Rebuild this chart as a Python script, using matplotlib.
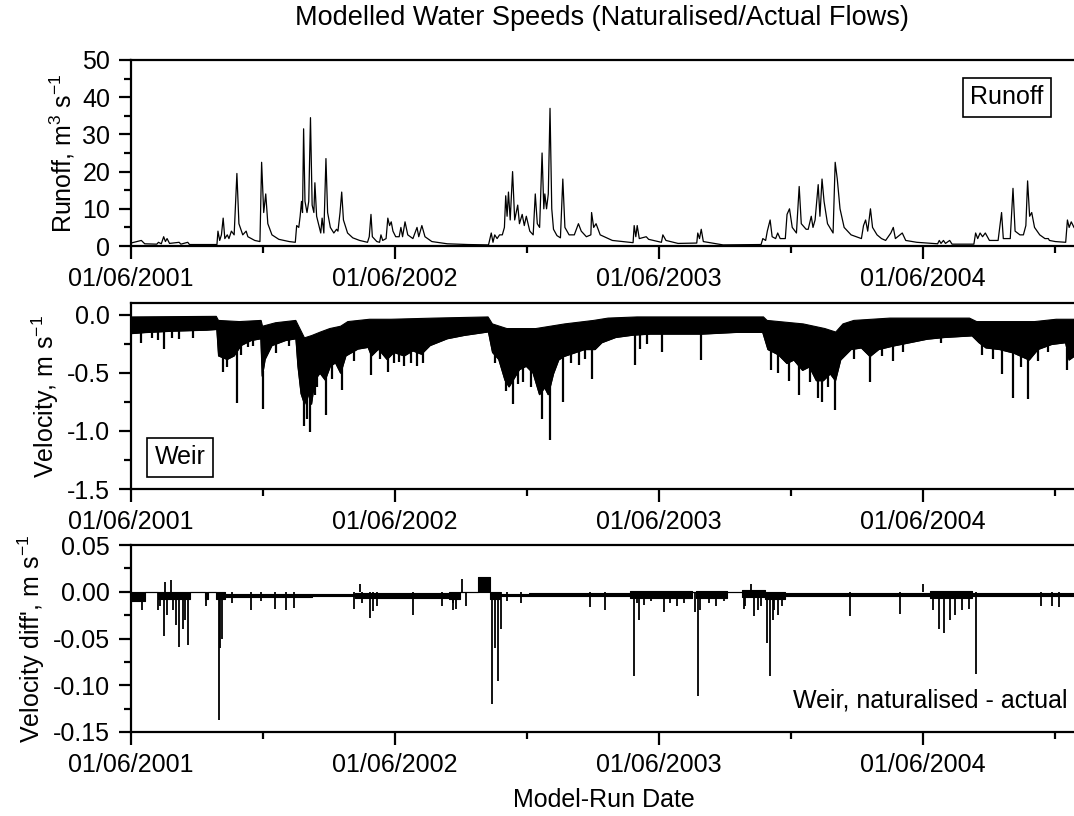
import matplotlib
matplotlib.use('Agg')
import matplotlib.pyplot as plt
from matplotlib.ticker import MultipleLocator, FormatStrFormatter
import numpy as np

plt.rcParams['font.family'] = ['Liberation Sans', 'DejaVu Sans']
plt.rcParams['mathtext.fontset'] = 'custom'
plt.rcParams['mathtext.rm'] = 'Liberation Sans'
plt.rcParams['mathtext.it'] = 'Liberation Sans:italic'
plt.rcParams['axes.unicode_minus'] = False

# x values are days since 01/06/2001
# ---------------- runoff (m3 s-1) ----------------
runoff_day = [0, 14.3, 19, 35.7, 38, 41.9, 45.2, 47.6, 49.9, 53.3, 66.6, 69, 78.5, 80.9, 118.9,
              120.3, 122.7, 125.1, 127.5, 129.8, 133.2, 135.5, 138.9, 142.7, 146.5, 149.3, 154.6,
              159.3, 161.7, 171.2, 178.4, 180.7, 183.6, 186.4, 189.3, 195, 204.5, 218.8, 227.3,
              229.2, 232.1, 234, 235.9, 237.3, 238.8, 240.7, 243.5, 245.9, 248.3, 250.6, 253,
              254.4, 256.8, 260.6, 262.5, 264.4, 266.8, 269.7, 272, 275.8, 280.6, 284.4, 286.3,
              289.2, 291.5, 293.9, 299.6, 306.8, 316.3, 327.2, 329.6, 332, 333.9, 340.1, 343.9,
              345.8, 348.2, 352.9, 355.3, 357.7, 360, 362.4, 366.2, 371, 373.4, 375.7, 379.1,
              382.9, 390, 395.7, 398.1, 402.4, 406.7, 416.2, 437.6, 466.1, 494.6, 498.4, 500.8,
              503.2, 506.5, 509.9, 513.7, 516.6, 518.4, 520.3, 522.2, 524.6, 527.9, 530.8, 535,
              537.4, 541.2, 544.1, 546.9, 551.7, 556.4, 559.3, 562.1, 565.3, 568.7, 571.1, 572.5,
              574.9, 577.3, 579.7, 582.1, 584.5, 589.3, 594.1, 597.4, 600.3, 606.1, 613.3, 619,
              622.9, 630, 636.2, 637.2, 640.1, 643.4, 649.1, 665.9, 694.6, 696.1, 698.4, 700.3,
              703.2, 712.8, 716.1, 733.8, 735.8, 740.1, 756.8, 782.7, 784.1, 786.5, 788.9, 791.8,
              819.1, 871.7, 874.1, 878, 880.3, 884.2, 887, 891.8, 894.7, 898.1, 905.2, 907.6, 911,
              914.8, 920.6, 924.4, 927.3, 934, 936.9, 941.1, 943.5, 946.4, 950.7, 953.1, 956,
              958.8, 963.6, 971.3, 974.2, 977.1, 980.9, 986.6, 996.2, 1010.5, 1013.4, 1016.3,
              1019.2, 1023, 1025.9, 1032.1, 1038.3, 1044, 1051.2, 1054.6, 1057.5, 1067, 1071.8,
              1087.1, 1115.9, 1118.2, 1120.6, 1124, 1126.8, 1132.6, 1135.9, 1166.1, 1168.5,
              1171.4, 1174.7, 1178.1, 1181.9, 1187.6, 1199.6, 1204.4, 1206.8, 1216.4, 1220.2,
              1223.1, 1229.8, 1234.6, 1238, 1240.4, 1243.2, 1246.1, 1250, 1257.2, 1264.4, 1269.1,
              1270.6, 1278.7, 1293.1, 1295.5, 1297.9, 1300.8, 1304.6]
runoff_val = [0.8, 1.5, 0.6, 0.5, 1.0, 0.6, 2.5, 1.2, 2.0, 0.7, 1.0, 0.5, 1.0, 0.4, 0.4,
              4.0, 1.5, 3.0, 7.5, 2.0, 3.0, 2.0, 4.0, 3.0, 19.5, 6.0, 3.0,
              4.0, 2.5, 1.5, 1.2, 22.5, 9.0, 14.0, 6.0, 3.0, 1.8, 1.2, 1.0,
              5.5, 5.0, 8.0, 12.0, 9.0, 31.5, 12.0, 9.0, 12.0, 34.5, 11.0, 9.0,
              17.0, 8.0, 5.0, 3.5, 7.5, 3.5, 23.5, 9.0, 5.0, 3.5, 4.5, 4.0,
              9.0, 14.5, 7.0, 3.5, 2.2, 1.5, 1.0, 2.5, 8.5, 2.5, 1.2, 1.0,
              3.0, 1.5, 2.0, 7.5, 5.5, 6.5, 4.0, 2.5, 2.5, 5.0, 2.5, 6.5,
              3.0, 2.0, 5.0, 2.5, 5.5, 2.5, 1.2, 0.6, 0.4, 0.3, 3.5, 1.0,
              3.0, 2.0, 3.0, 3.0, 5.0, 13.5, 8.0, 14.5, 7.0, 20.0, 7.0, 11.0,
              6.0, 8.5, 5.5, 8.0, 4.0, 3.0, 14.0, 6.0, 5.0, 25.0, 10.0, 14.0,
              10.0, 14.0, 37.0, 10.0, 4.5, 2.8, 2.2, 18.0, 5.0, 3.0, 3.0, 6.0,
              4.0, 2.5, 3.0, 9.0, 5.0, 6.0, 3.0, 1.5, 0.9, 5.5, 2.5, 5.5,
              2.0, 2.5, 1.8, 1.0, 3.0, 1.5, 0.7, 0.8, 3.5, 2.0, 4.5, 1.2,
              0.3, 0.4, 2.0, 1.5, 4.0, 7.0, 2.5, 2.0, 3.5, 2.0, 2.0, 8.5, 10.0,
              5.0, 3.5, 16.0, 6.0, 4.5, 4.5, 8.0, 5.0, 7.0, 16.5, 8.0, 18.0,
              12.0, 6.0, 3.5, 22.5, 18.0, 10.0, 5.0, 3.0, 2.0, 5.5, 7.0,
              4.0, 10.0, 5.0, 3.0, 2.0, 1.5, 3.5, 5.0, 2.0, 3.5, 1.5,
              1.0, 0.6, 1.5, 0.7, 1.5, 0.7, 1.5, 0.5, 0.5, 3.5,
              2.0, 3.5, 2.5, 3.5, 1.5, 1.5, 9.0, 2.0, 2.0, 15.5,
              4.0, 3.0, 3.0, 5.5, 17.5, 8.0, 9.0, 5.0, 3.0, 2.0, 2.0,
              1.5, 1.2, 1.0, 7.0, 5.0, 6.5, 5.0]

# ---------------- weir velocity (m s-1): tidal band envelopes + storm spikes ----------------
vel_up_day = [0, 118, 121, 150, 180, 182, 200, 228, 232, 240, 250, 262, 275, 290, 300, 330, 360,
              420, 494, 500, 520, 560, 580, 600, 640, 660, 700, 875, 880, 930, 960, 975, 985,
              1000, 1050, 1160, 1170, 1250, 1280, 1304.6]
vel_up_val = [-0.02, -0.015, -0.05, -0.06, -0.05, -0.1, -0.07, -0.05, -0.1, -0.2, -0.18, -0.15,
              -0.12, -0.1, -0.06, -0.04, -0.04, -0.03, -0.02, -0.08, -0.12, -0.12, -0.1, -0.08,
              -0.05, -0.03, -0.02, -0.02, -0.05, -0.08, -0.12, -0.15, -0.08, -0.05, -0.03, -0.03,
              -0.06, -0.06, -0.04, -0.04]
vel_low_day = [0, 19, 57, 104.6, 118.9, 121.3, 133.2, 142.7, 152.2, 166.5, 179.8, 181.7, 185.5,
               195, 214, 228.3, 231.1, 235.4, 240.2, 245, 249.7, 254.4, 261.6, 268.7, 275.8, 283,
               290.1, 297.3, 313.9, 328.2, 332.9, 342.4, 354.3, 363.8, 378.1, 390, 401.9, 413.8,
               437.6, 461.3, 494.6, 500.3, 508.9, 517.4, 523.1, 528.8, 537.4, 546.9, 556.4,
               565.3, 572.5, 577.3, 584.5, 591.7, 599, 613.3, 627.6, 642, 651.5, 670.7, 694.6,
               718.5, 742.5, 790.3, 838.2, 874.1, 881.3, 895.7, 907.6, 917.2, 929.2, 938.7, 948.3,
               957.9, 967.5, 974.6, 981.8, 996.2, 1010.5, 1022.5, 1034.5, 1053.6, 1077.6, 1101.5,
               1125.4, 1163.7, 1173.3, 1182.9, 1202, 1221.2, 1242.7, 1254.7, 1273.9, 1293.1,
               1297.9, 1304.6]
vel_low_val = [-0.163, -0.154, -0.142, -0.133, -0.127, -0.355, -0.385, -0.355, -0.266, -0.222,
               -0.207, -0.53, -0.385, -0.266, -0.222, -0.207, -0.444, -0.68, -0.77, -0.68, -0.77,
               -0.562, -0.503, -0.562, -0.444, -0.414, -0.503, -0.355, -0.296, -0.281, -0.355,
               -0.296, -0.385, -0.325, -0.355, -0.311, -0.34, -0.266, -0.207, -0.178, -0.148,
               -0.325, -0.385, -0.562, -0.621, -0.562, -0.473, -0.444, -0.503, -0.688, -0.628,
               -0.688, -0.509, -0.39, -0.36, -0.33, -0.3, -0.3, -0.241, -0.196, -0.176, -0.167,
               -0.167, -0.167, -0.152, -0.152, -0.3, -0.345, -0.42, -0.39, -0.479, -0.449, -0.568,
               -0.568, -0.509, -0.568, -0.39, -0.3, -0.286, -0.36, -0.3, -0.271, -0.241, -0.211,
               -0.196, -0.182, -0.241, -0.286, -0.3, -0.33, -0.39, -0.3, -0.256, -0.241, -0.39,
               -0.36]
vel_spike_day = [14.3, 28.5, 38, 45.2, 57, 66.6, 85.6, 127.5, 133, 146.5, 152, 162, 169, 182.2,
                 200, 219, 238.8, 244, 248.3, 254.4, 257, 269.7, 278, 291.5, 309, 332, 345,
                 355.3, 364, 371, 378.1, 388, 395.7, 404, 504, 518.4, 527.9, 535, 542, 554,
                 568.7, 579.7, 597.4, 608.5, 620.4, 627.6, 637.2, 697, 704, 714, 735.3, 788, 886,
                 895.7, 910, 924.4, 938.7, 950.7, 955.5, 963.6, 974.6, 1000.8, 1022.5, 1039,
                 1054.6, 1068, 1120.6, 1178, 1192, 1204.4, 1220.2, 1230.8, 1240.4, 1254.7, 1269,
                 1295.5]
vel_spike_val = [-0.24, -0.2, -0.22, -0.30, -0.2, -0.21, -0.2, -0.49, -0.45, -0.76, -0.35, -0.28,
                 -0.27, -0.81, -0.33, -0.27, -0.96, -0.9, -1.01, -0.69, -0.62, -0.86, -0.55,
                 -0.65, -0.4, -0.52, -0.38, -0.49, -0.42, -0.41, -0.44, -0.42, -0.44, -0.42,
                 -0.42, -0.66, -0.77, -0.6, -0.58, -0.62, -0.9, -1.08, -0.75, -0.42, -0.43,
                 -0.38, -0.55, -0.43, -0.3, -0.25, -0.32, -0.39, -0.48, -0.5, -0.57, -0.69,
                 -0.58, -0.72, -0.75, -0.62, -0.82, -0.38, -0.58, -0.36, -0.40, -0.32, -0.24,
                 -0.35, -0.38, -0.51, -0.72, -0.45, -0.73, -0.4, -0.32, -0.48]

# ---------------- velocity difference, naturalised - actual (m s-1) ----------------
diff_edge_day = [0, 19, 38, 81, 103, 106, 118, 130, 250, 310, 440, 455, 480, 497, 510, 551, 690,
                 776, 781, 824, 829, 845, 877, 905, 1106, 1164, 1304.6]
diff_upper = [0, 0, 0, 0, 0, 0, 0, -0.002, -0.002, -0.001, 0, 0, 0.016, 0, -0.002, -0.001,
              0.001, 0, 0.001, 0, 0, 0.002, 0, -0.001, 0.001, -0.001, -0.001]
diff_lower = [-0.01, 0, -0.008, 0, -0.008, 0, -0.008, -0.006, -0.005, -0.007, -0.008, 0, 0,
              -0.008, -0.005, -0.005, -0.007, 0, -0.007, 0, 0, -0.006, -0.008, -0.005, -0.007,
              -0.005, -0.005]
diff_spike_day = [15.2, 38, 40, 46.1, 47.6, 50, 55.6, 58, 61.8, 66.6, 71.3, 75, 78.5, 103.7,
                  121.3, 123.7, 126, 140, 165.5, 180, 199.8, 214, 225.9, 309, 316.3, 320, 330.5,
                  335.3, 340, 390, 430, 445, 446.1, 450, 458, 463.7, 499.4, 504.1, 508, 511.3,
                  520, 540, 634.8, 656.3, 696, 700, 703.2, 710, 720, 737.7, 745, 755, 765,
                  780.8, 784.1, 786.5, 800, 810, 820, 847.8, 850, 857.4, 862.1, 868, 872, 880.3,
                  883.7, 888.5, 890, 895, 900, 995.2, 1064.2, 1095.8, 1110, 1118.3, 1125.4,
                  1132.6, 1140, 1150, 1160, 1168.5, 1259.5, 1273.9, 1283.4]
diff_spike_val = [-0.020, -0.02, -0.015, -0.047, 0.011, -0.025, 0.013, -0.02, -0.036, -0.059,
                  -0.04, -0.03, -0.057, -0.015, -0.137, -0.06, -0.05, -0.012, -0.02, -0.01,
                  -0.018, -0.019, -0.017, -0.018, 0.008, -0.012, -0.028, -0.021, -0.015, -0.025,
                  -0.015, -0.012, -0.02, -0.018, 0.014, -0.015, -0.12, -0.06, -0.096, -0.04,
                  -0.01, -0.012, -0.016, -0.02, -0.09, -0.012, -0.03, -0.014, -0.01, -0.022,
                  -0.012, -0.015, -0.012, -0.022, -0.112, -0.02, -0.012, -0.015, -0.01, -0.018,
                  -0.015, 0.008, -0.026, -0.02, -0.015, -0.055, -0.09, -0.03, -0.02, -0.025,
                  -0.015, -0.026, -0.024, 0.008, -0.02, -0.04, -0.044, -0.03, -0.025, -0.02,
                  -0.018, -0.088, -0.015, -0.015, -0.016]

major_days = [0, 365, 730, 1096]
major_labels = ['01/06/2001', '01/06/2002', '01/06/2003', '01/06/2004']
minor_days = [182.5, 547.5, 913, 1278.5]
x_end = 1304.6

fs = 18
fig = plt.figure(figsize=(10.74, 8.16), dpi=100)
left = 131 / 1074
width = 1 - left
ax1 = fig.add_axes([left, 0.6985, width, 0.228])
ax2 = fig.add_axes([left, 0.4007, width, 0.228])
ax3 = fig.add_axes([left, 0.1030, width, 0.229])

# runoff
ax1.plot(runoff_day, runoff_val, color='black', lw=0.9)
ax1.set_ylim(0, 50)
ax1.yaxis.set_major_locator(MultipleLocator(10))
ax1.yaxis.set_minor_locator(MultipleLocator(5))
ax1.yaxis.set_major_formatter(FormatStrFormatter('%d'))
ax1.set_ylabel('Runoff, m$^{3}$ s$^{-1}$', fontsize=fs)
ax1.text(0.929, 0.80, 'Runoff', transform=ax1.transAxes, fontsize=fs,
         ha='center', va='center',
         bbox=dict(boxstyle='square,pad=0.3', fc='white', ec='black', lw=1.2))

# weir velocity
poly_x = np.concatenate([vel_up_day, vel_low_day[::-1]])
poly_y = np.concatenate([vel_up_val, vel_low_val[::-1]])
ax2.fill(poly_x, poly_y, color='black', lw=0.8)
ax2.plot(vel_low_day, vel_low_val, color='black', lw=1.0)
spike_top = np.interp(vel_spike_day, vel_low_day, vel_low_val) + 0.03
ax2.vlines(vel_spike_day, spike_top, vel_spike_val, color='black', lw=1.6)
ax2.set_ylim(-1.5, 0.1)
ax2.yaxis.set_major_locator(MultipleLocator(0.5))
ax2.yaxis.set_minor_locator(MultipleLocator(0.25))
ax2.yaxis.set_major_formatter(FormatStrFormatter('%.1f'))
ax2.set_ylabel('Velocity, m s$^{-1}$', fontsize=fs)
ax2.text(0.052, 0.172, 'Weir', transform=ax2.transAxes, fontsize=fs, ha='center', va='center',
         bbox=dict(boxstyle='square,pad=0.3', fc='white', ec='black', lw=1.2))

# difference
ax3.fill_between(diff_edge_day, diff_upper, diff_lower, step='post', color='black', lw=0.8)
ax3.vlines(diff_spike_day, 0, diff_spike_val, color='black', lw=1.3)
ax3.set_ylim(-0.15, 0.05)
ax3.yaxis.set_major_locator(MultipleLocator(0.05))
ax3.yaxis.set_minor_locator(MultipleLocator(0.025))
ax3.yaxis.set_major_formatter(FormatStrFormatter('%.2f'))
ax3.set_ylabel("Velocity diff', m s$^{-1}$", fontsize=fs)
ax3.text(0.993, 0.166, 'Weir, naturalised - actual', transform=ax3.transAxes, fontsize=fs,
         ha='right', va='center')

for ax in (ax1, ax2, ax3):
    ax.set_xlim(0, x_end)
    ax.set_xticks(major_days)
    ax.set_xticklabels(major_labels)
    ax.set_xticks(minor_days, minor=True)
    ax.spines['right'].set_visible(False)
    for s in ('left', 'bottom', 'top'):
        ax.spines[s].set_linewidth(1.6)
    ax.tick_params(which='major', direction='out', length=9, width=1.6, labelsize=fs, pad=6)
    ax.tick_params(which='minor', direction='out', length=5, width=1.6)
    ax.tick_params(top=False, right=False)

fig.text(0.56, 0.978, 'Modelled Water Speeds (Naturalised/Actual Flows)', fontsize=19.5,
         ha='center', va='center')
fig.text(0.562, 0.02, 'Model-Run Date', fontsize=fs, ha='center', va='center')

fig.savefig('out.png', dpi=100)
